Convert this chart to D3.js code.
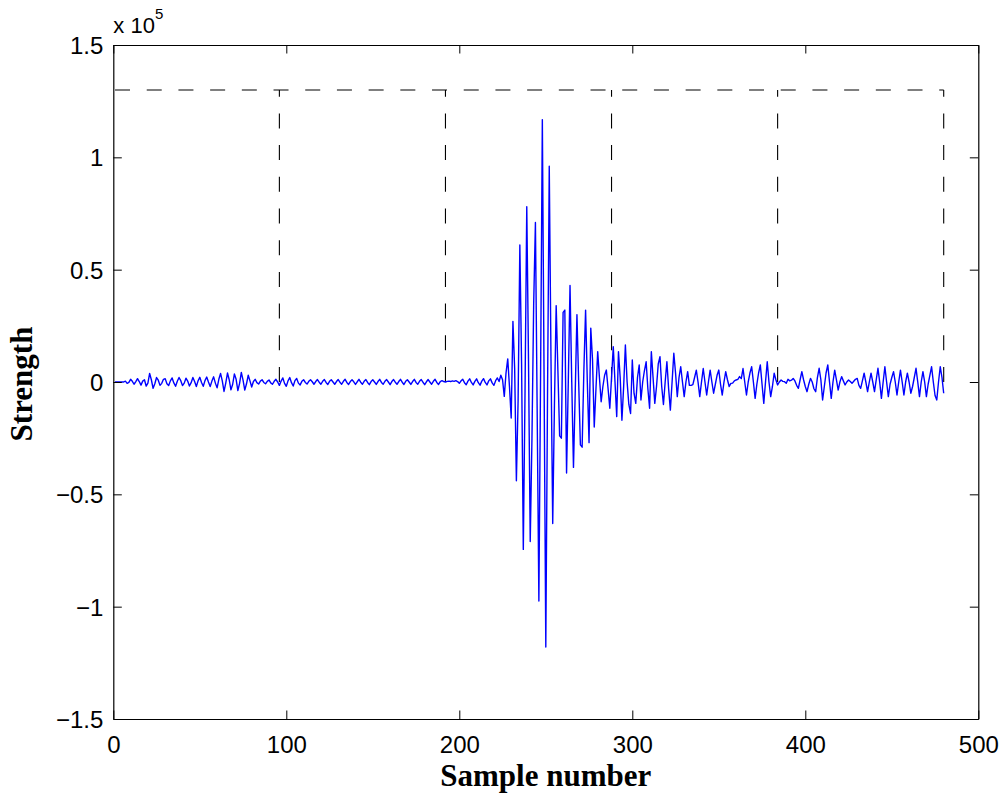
<!DOCTYPE html>
<html>
<head>
<meta charset="utf-8">
<script src="https://cdn.jsdelivr.net/npm/d3@7"></script>
<style>
  html, body { margin: 0; padding: 0; background: #ffffff; }
  svg { display: block; }
</style>
</head>
<body>
<svg id="chart" width="1008" height="795"></svg>
<script>
// ---------------- DATA ----------------
// Signal strength in thousands, for sample numbers 1..480
const strengthK = [
  0, 0, 0, 0, 0, 0, 0.4, -0.6, -0.2,
  1.2, 0.3, -1.0, 0.2, 1.5, 0.2, -1.4, 0.4, 1.0, -1.8,
  -0.5, 3.8, 1.0, -2.8, -0.8, 2.0, 0.8, -1.5, -0.6, 1.2,
  1.5, -0.8, -1.6, 0.5, 1.8, -0.4, -1.9, 0.3, 2.0, 0.6,
  -1.6, -0.5, 1.7, 0.4, -1.8, -0.3, 2.0, 0.2, -2.0, 0.5,
  2.1, -0.2, -1.9, 0.6, 2.2, 0.0, -2.0, 0.4, 2.3, -0.5,
  -2.6, 1.2, 3.8, 0.5, -4.2, -0.5, 4.0, 1.0, -3.5, -1.0,
  3.6, 1.2, -3.8, -0.6, 4.3, 0.8, -3.6, -0.8, 3.0, 0.5,
  -2.2, 0.2, 1.2, -0.3, -0.9, 0.4, 1.0, -0.2, -0.8, 0.3,
  0.9, -0.4, -1.0, 0.3, 1.2, 0.0, -1.5, 0.4, 1.8, -0.6,
  -1.9, 0.5, 2.0, -0.3, -1.8, 0.6, 1.6, -0.5, -1.3, 0.3,
  1.0, -0.2, -0.9, 0.3, 1.0, 0.1, -1.0, 0.2, 1.1, -0.1,
  -1.0, 0.3, 1.1, -0.2, -1.1, 0.3, 1.0, 0.0, -1.0, 0.2,
  1.1, -0.1, -1.0, 0.3, 1.2, -0.2, -1.1, 0.2, 1.0, 0.1,
  -1.1, 0.1, 1.2, -0.1, -1.0, 0.3, 1.1, -0.2, -1.2, 0.2,
  1.0, 0.0, -1.1, 0.2, 1.2, -0.2, -1.0, 0.3, 1.1, 0.0,
  -1.2, 0.2, 1.1, -0.1, -1.0, 0.2, 1.2, -0.1, -1.1, 0.3,
  1.0, 0.0, -1.1, 0.2, 1.2, -0.2, -1.0, 0.3, 1.1, -0.1,
  -1.2, 0.1, 1.1, 0.0, -1.0, 0.3, 1.2, -0.2, -1.1, 0.2,
  0.6, 0.2, 0.0, 0.3, 0.4, 0.2, 0.5, 0.3, 0.6, 0.2,
  -0.6, 0.5, 1.2, -0.3, -1.2, 0.4, 1.4, -0.2, -1.3, 0.3,
  1.4, -0.3, -1.4, 0.4, 1.5, -0.2, -1.3, 0.5, 1.4, -0.4,
  -1.5, 0.6, 1.8, 0.2, 3.0, 1.0, -6.4, 4.0, 10.3, -2.0,
  -16.0, 27.0, 6.0, -44.0, -8.0, 61.0, 8.0, -74.5, -4.0, 78.0,
  10.0, -71.0, -25.0, 35.0, 71.0, -12.0, -97.5, 5.0, 116.8, 2.0,
  -118.0, -5.0, 96.0, 10.0, -63.0, -10.0, 34.0, 5.0, -24.0, -25.0,
  31.0, 32.0, -40.5, 0.0, 43.0, 0.0, -38.0, -5.0, 30.0, 0.0,
  -28.0, -29.0, 5.0, 32.0, 0.0, -27.0, 24.0, 10.0, -20.0, -3.0,
  13.5, 2.0, -8.8, -2.0, 3.0, 5.3, -3.0, -11.7, 2.0, 15.7,
  0.0, -15.4, 13.5, 2.0, -17.0, -2.0, 16.5, 0.0, -10.0, -14.0,
  9.8, -5.0, -9.5, 2.0, 7.6, -8.0, 0.0, 5.0, 9.0, -3.0,
  -11.7, 13.5, 2.0, -9.5, -2.0, 8.0, 11.3, -2.0, -10.0, 0.0,
  9.0, -3.0, -12.5, 0.0, 12.8, 4.0, -6.5, 2.0, 6.8, 0.0,
  -6.5, 0.0, 4.6, -1.5, -1.5, -1.2, 2.0, 5.3, 0.0, -6.5,
  0.0, 6.0, 0.0, -5.8, 0.0, 5.3, 0.0, -5.0, -1.0, 3.0,
  5.3, -1.0, -5.8, 0.0, 4.6, 1.0, -2.0, -0.6, -0.5, 0.5,
  0.9, 1.2, 2.4, 1.5, 6.0, 0.0, -5.8, 0.0, 4.0, 6.8,
  0.0, -7.3, -1.0, 4.0, 7.6, -1.0, -9.5, 0.0, 9.0, 0.0,
  -6.5, -2.0, 3.9, 1.0, -1.3, 0.0, 0.9, 0.3, 0.15, -0.6,
  1.2, 0.5, 0.8, 1.6, 0.5, -1.5, -2.8, 1.0, 4.6, 1.0,
  -2.0, -4.3, -1.0, 1.6, 0.0, -3.0, -4.3, 2.0, 6.1, 1.0,
  -8.0, -2.0, 4.0, 7.6, 0.0, -7.3, 0.0, 5.3, 1.0, -3.6,
  0.0, 2.4, 0.5, -1.3, 0.0, 0.9, 0.2, -0.6, 0.3, 1.2,
  1.6, -1.5, -2.8, 0.5, 3.9, 0.0, -4.3, 0.0, 3.9, 0.0,
  -4.3, 1.0, 6.1, 0.0, -7.3, 0.0, 6.8, 0.0, -6.5, -1.0,
  2.0, 4.6, 0.0, -5.8, 0.0, 5.3, 0.0, -5.8, 0.0, 3.9,
  0.0, -5.0, -2.0, 2.0, 6.1, 0.0, -6.5, 0.0, 4.6, 0.0,
  -6.5, -1.0, 3.0, 6.8, 0.0, -6.0, -8.0, 0.0, 6.8, 2.0,
  -5.0
];

// Frame (window) boundaries and level of the dashed frame line
const frameBoundaries = [96, 192, 288, 384, 480];
const frameStart = 1;
const frameLevel = 130000;

// Axis ticks
const xTicks = [0, 100, 200, 300, 400, 500];
const xTickLabels = ["0", "100", "200", "300", "400", "500"];
const yTicks = [-150000, -100000, -50000, 0, 50000, 100000, 150000];
const yTickLabels = ["\u22121.5", "\u22121", "\u22120.5", "0", "0.5", "1", "1.5"];

const xLabel = "Sample number";
const yLabel = "Strength";

// ---------------- DRAWING ----------------
const svg = d3.select("#chart");
const plotLeft = 113.3, plotRight = 978.3, plotTop = 45, plotBottom = 719;

const x = d3.scaleLinear().domain([0, 500]).range([plotLeft, plotRight]);
const y = d3.scaleLinear().domain([-150000, 150000]).range([plotBottom, plotTop]);

const points = strengthK.map((v, i) => ({ n: i + 1, s: v * 1000 }));

const tickFont = "'Liberation Sans', Arial, Helvetica, sans-serif";
const labelFont = "'Liberation Serif', 'Times New Roman', serif";

// dashed frame line: horizontal
svg.append("path")
  .attr("d", d3.line()([[x(frameStart), y(frameLevel)], [x(frameBoundaries[frameBoundaries.length - 1]), y(frameLevel)]]))
  .attr("fill", "none").attr("stroke", "#000").attr("stroke-width", 1.1)
  .attr("stroke-dasharray", "15,16.7");

// dashed verticals, drawn from zero upwards
svg.selectAll("path.vline").data(frameBoundaries).enter().append("path")
  .attr("class", "vline")
  .attr("d", d => d3.line()([[x(d), y(0)], [x(d), y(frameLevel)]]))
  .attr("fill", "none").attr("stroke", "#000").attr("stroke-width", 1.1)
  .attr("stroke-dasharray", "15,16.7");

// signal
svg.append("path")
  .datum(points)
  .attr("fill", "none")
  .attr("stroke", "#0000ff")
  .attr("stroke-width", 1.4)
  .attr("stroke-linejoin", "round")
  .attr("d", d3.line().x(d => x(d.n)).y(d => y(d.s)));

// axes with inward ticks
const tl = 8.5;
const gB = svg.append("g").attr("transform", `translate(0,${plotBottom})`)
  .call(d3.axisBottom(x).tickValues(xTicks).tickSizeInner(-tl).tickSizeOuter(0).tickPadding(16.5)
        .tickFormat((d, i) => xTickLabels[i]));
const gL = svg.append("g").attr("transform", `translate(${plotLeft},0)`)
  .call(d3.axisLeft(y).tickValues(yTicks).tickSizeInner(-tl).tickSizeOuter(0).tickPadding(10)
        .tickFormat((d, i) => yTickLabels[i]));
const gT = svg.append("g").attr("transform", `translate(0,${plotTop})`)
  .call(d3.axisTop(x).tickValues(xTicks).tickSizeInner(-tl).tickSizeOuter(0).tickFormat(""));
const gR = svg.append("g").attr("transform", `translate(${plotRight},0)`)
  .call(d3.axisRight(y).tickValues(yTicks).tickSizeInner(-tl).tickSizeOuter(0).tickFormat(""));

[gB, gL, gT, gR].forEach(g => {
  g.selectAll("path.domain").attr("stroke", "#000").attr("stroke-width", 1.2);
  g.selectAll(".tick line").attr("stroke", "#000").attr("stroke-width", 1);
  g.selectAll(".tick text").attr("font-family", tickFont).attr("font-size", 24).attr("fill", "#000");
});
gL.selectAll(".tick text").attr("dy", "0.36em");

// exponent label
const expo = svg.append("text")
  .attr("x", plotLeft).attr("y", 33)
  .attr("font-family", tickFont).attr("font-size", 22).attr("fill", "#000");
expo.append("tspan").text("x 10");
expo.append("tspan").attr("dy", -14).attr("font-size", 15).text("5");

// axis titles
svg.append("text")
  .attr("x", (plotLeft + plotRight) / 2).attr("y", 786)
  .attr("text-anchor", "middle")
  .attr("font-family", labelFont).attr("font-weight", "bold").attr("font-size", 31)
  .attr("fill", "#000")
  .text(xLabel);

svg.append("text")
  .attr("transform", `translate(32,${(plotTop + plotBottom) / 2 + 2}) rotate(-90)`)
  .attr("text-anchor", "middle")
  .attr("font-family", labelFont).attr("font-weight", "bold").attr("font-size", 31)
  .attr("fill", "#000")
  .text(yLabel);
</script>
</body>
</html>
